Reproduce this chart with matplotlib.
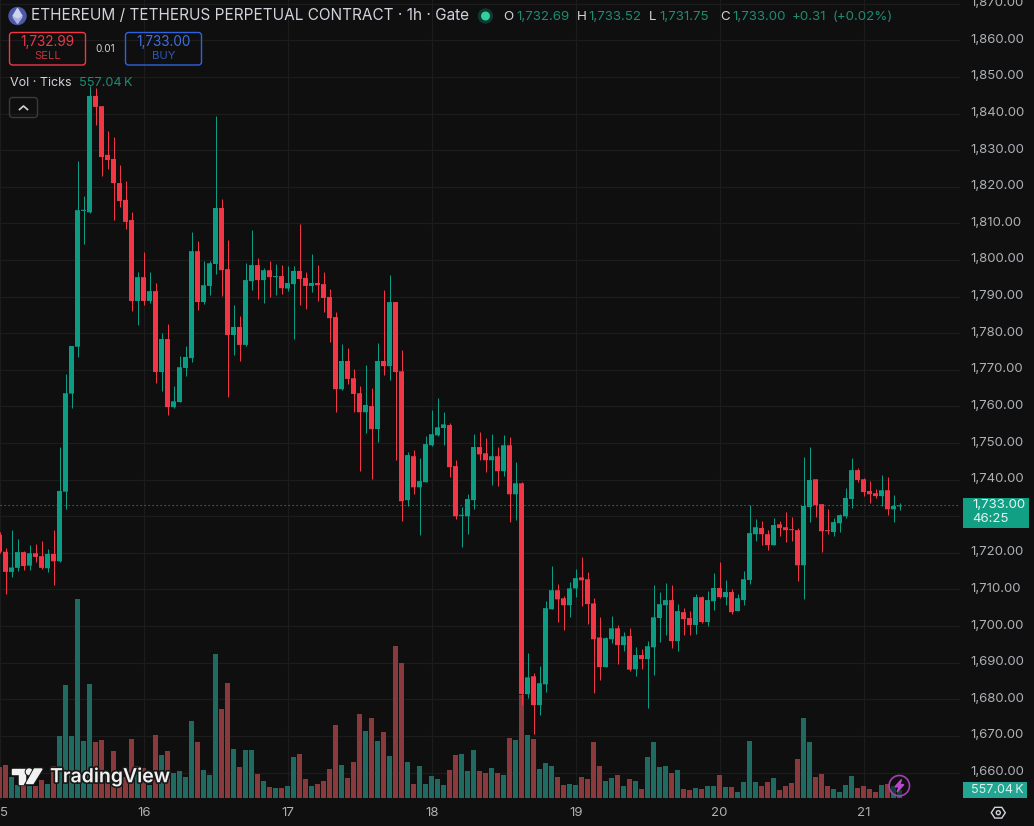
import numpy as np
import matplotlib
matplotlib.use("Agg")
import matplotlib.pyplot as plt
from matplotlib import patheffects
from matplotlib.patches import Circle, FancyBboxPatch, Polygon, Rectangle
from matplotlib.transforms import ScaledTranslation

# Hourly ETH/USDT perpetual candles; hour 0 is the first bar of the 16th.
opens = [
    1724.9, 1720.3, 1714.8, 1715.9, 1720.2, 1716.5, 1719.9, 1719.1, 1715.8, 1719.7, 1717.7, 1736.7,
    1763.5, 1776.3, 1813.4, 1813.0, 1844.8, 1842.0, 1828.7, 1827.6, 1821.0, 1816.4, 1810.9, 1788.8,
    1795.3, 1788.8, 1791.5, 1769.4, 1778.4, 1759.8, 1761.2, 1770.5, 1773.2, 1802.4, 1788.5, 1792.9,
    1798.9, 1814.2, 1797.5, 1779.5, 1781.7, 1776.8, 1794.2, 1798.6, 1794.5, 1797.2, 1795.3, 1795.6,
    1792.2, 1793.4, 1797.0, 1795.1, 1792.9, 1793.7, 1793.4, 1789.9, 1784.4, 1764.7, 1772.4, 1767.7,
    1763.6, 1758.4, 1760.1, 1753.8, 1772.4, 1771.0, 1788.5, 1769.6, 1734.4, 1746.4, 1737.9, 1739.3,
    1749.4, 1752.1, 1754.1, 1754.9, 1743.7, 1730.1, 1730.0, 1734.4, 1748.9, 1747.2, 1745.3, 1746.4,
    1742.3, 1749.4, 1736.0, 1739.0, 1681.4, 1686.3, 1678.4, 1684.1, 1704.6, 1709.8, 1707.6, 1705.7,
    1710.3, 1713.3, 1712.8, 1706.2, 1696.9, 1688.8, 1696.4, 1699.4, 1694.8, 1697.3, 1688.2, 1692.1,
    1691.0, 1694.2, 1702.2, 1705.7, 1707.1, 1695.9, 1703.8, 1702.2, 1700.3, 1707.9, 1701.1, 1706.8,
    1710.4, 1707.9, 1709.3, 1704.1, 1707.1, 1712.6, 1725.1, 1726.8, 1725.1, 1722.1, 1727.8, 1727.0,
    1726.5, 1726.2, 1716.6, 1732.5, 1740.1, 1733.3, 1726.2, 1725.7, 1728.1, 1730.0, 1734.7, 1742.6,
    1740.1, 1736.9, 1736.3, 1735.5, 1737.1, 1731.9, 1732.69,
]
highs = [
    1725.8, 1721.2, 1726.2, 1723.8, 1720.6, 1722.1, 1722.4, 1723.2, 1721.0, 1726.2, 1748.8, 1768.8,
    1776.6, 1827.0, 1817.4, 1847.5, 1846.9, 1842.0, 1835.2, 1833.6, 1825.9, 1821.6, 1813.1, 1796.7,
    1802.2, 1796.7, 1793.7, 1780.0, 1782.5, 1765.6, 1773.7, 1776.5, 1807.6, 1805.2, 1799.7, 1799.7,
    1839.3, 1816.6, 1805.4, 1787.7, 1784.7, 1799.2, 1808.2, 1800.5, 1797.9, 1799.7, 1798.9, 1798.6,
    1798.3, 1798.3, 1809.8, 1796.7, 1801.6, 1798.6, 1796.7, 1792.0, 1785.8, 1777.0, 1775.9, 1770.2,
    1765.5, 1771.3, 1765.0, 1777.3, 1791.8, 1795.9, 1788.5, 1775.4, 1747.5, 1748.0, 1745.9, 1751.9,
    1759.0, 1762.3, 1758.4, 1755.4, 1745.3, 1732.5, 1736.0, 1752.4, 1753.0, 1751.3, 1752.4, 1748.9,
    1752.1, 1751.6, 1744.8, 1739.3, 1692.6, 1687.1, 1689.0, 1706.8, 1716.3, 1711.4, 1708.2, 1712.0,
    1715.5, 1718.8, 1714.7, 1707.6, 1702.4, 1696.9, 1702.7, 1700.2, 1698.3, 1699.4, 1694.2, 1693.7,
    1695.9, 1711.2, 1709.3, 1711.7, 1711.2, 1706.0, 1704.9, 1704.1, 1708.7, 1708.2, 1709.5, 1714.5,
    1717.5, 1712.6, 1710.1, 1708.7, 1715.0, 1733.0, 1729.2, 1728.7, 1726.2, 1729.5, 1728.7, 1731.1,
    1729.8, 1726.8, 1746.2, 1748.9, 1740.1, 1733.3, 1731.9, 1729.5, 1730.6, 1737.7, 1745.9, 1743.2,
    1740.4, 1739.6, 1737.4, 1741.2, 1740.7, 1735.8, 1733.52,
]
lows = [
    1719.9, 1708.9, 1713.5, 1715.1, 1715.3, 1715.3, 1717.5, 1715.7, 1714.7, 1711.2, 1717.6, 1731.9,
    1759.6, 1773.6, 1804.4, 1812.7, 1836.9, 1822.9, 1824.9, 1810.9, 1814.5, 1808.4, 1786.0, 1782.2,
    1787.7, 1788.3, 1766.4, 1764.2, 1757.6, 1759.5, 1761.2, 1768.3, 1772.1, 1786.3, 1788.0, 1790.4,
    1796.1, 1790.1, 1762.5, 1774.0, 1772.4, 1776.5, 1791.8, 1789.3, 1788.2, 1789.8, 1790.4, 1790.7,
    1791.5, 1778.4, 1787.7, 1786.6, 1791.2, 1788.8, 1785.8, 1777.6, 1758.4, 1764.5, 1766.1, 1758.4,
    1742.3, 1752.7, 1740.1, 1750.2, 1768.6, 1767.2, 1745.3, 1728.6, 1732.7, 1736.0, 1724.8, 1739.3,
    1749.1, 1751.9, 1749.4, 1740.7, 1729.2, 1721.5, 1725.1, 1731.9, 1745.3, 1742.0, 1738.5, 1738.2,
    1740.9, 1728.4, 1728.9, 1678.4, 1680.3, 1670.6, 1675.6, 1681.9, 1704.6, 1701.0, 1698.9, 1702.4,
    1707.9, 1705.4, 1700.5, 1681.7, 1685.2, 1688.8, 1695.3, 1689.6, 1693.1, 1687.7, 1686.3, 1688.2,
    1677.6, 1686.6, 1695.6, 1697.5, 1694.0, 1693.2, 1697.5, 1697.5, 1697.8, 1700.8, 1700.0, 1704.4,
    1707.6, 1705.7, 1703.3, 1704.1, 1705.7, 1711.5, 1723.2, 1722.1, 1720.7, 1722.1, 1724.6, 1722.9,
    1723.2, 1712.3, 1707.4, 1728.4, 1729.8, 1720.2, 1725.1, 1724.6, 1725.7, 1729.5, 1732.2, 1739.3,
    1735.5, 1733.6, 1735.0, 1732.8, 1730.3, 1728.4, 1731.75,
]
closes = [
    1720.3, 1714.8, 1716.0, 1720.2, 1716.4, 1719.9, 1718.9, 1715.9, 1719.7, 1717.7, 1736.9, 1763.6,
    1776.5, 1813.6, 1813.6, 1844.8, 1841.8, 1828.1, 1827.3, 1821.0, 1816.1, 1810.4, 1788.8, 1795.3,
    1788.8, 1791.5, 1769.4, 1778.4, 1759.8, 1761.4, 1770.7, 1773.5, 1802.4, 1788.5, 1793.1, 1799.1,
    1814.2, 1797.2, 1779.5, 1781.7, 1776.8, 1794.5, 1798.6, 1794.5, 1797.2, 1795.3, 1795.6, 1792.3,
    1793.7, 1797.0, 1794.8, 1792.9, 1793.7, 1793.1, 1789.6, 1784.1, 1764.7, 1772.4, 1767.5, 1763.4,
    1758.4, 1760.4, 1753.8, 1772.4, 1771.0, 1788.5, 1769.4, 1734.1, 1746.7, 1737.9, 1739.6, 1749.7,
    1752.4, 1754.3, 1755.1, 1743.4, 1730.0, 1730.3, 1734.7, 1748.9, 1746.9, 1745.3, 1746.4, 1742.3,
    1749.4, 1736.0, 1739.0, 1681.4, 1686.0, 1678.4, 1684.4, 1704.9, 1709.8, 1707.3, 1705.7, 1710.3,
    1713.1, 1712.5, 1706.0, 1696.4, 1688.8, 1696.7, 1699.4, 1694.8, 1697.2, 1688.1, 1692.1, 1691.0,
    1694.5, 1702.4, 1706.0, 1707.1, 1695.9, 1704.1, 1701.9, 1700.3, 1707.9, 1701.1, 1707.1, 1710.4,
    1707.9, 1709.3, 1703.8, 1707.6, 1712.8, 1725.4, 1727.0, 1725.1, 1722.1, 1727.6, 1726.8, 1726.2,
    1726.2, 1716.6, 1732.8, 1739.9, 1733.0, 1725.9, 1725.9, 1728.4, 1730.3, 1735.0, 1742.6, 1739.9,
    1736.6, 1736.0, 1735.5, 1737.1, 1731.9, 1732.8, 1733.00,
]
# Traded volume in thousands of ticks
volumes_k = [
    2170, 2310, 1470, 910, 840, 840, 840, 1260, 980, 2240, 4340, 7910,
    4340, 13930, 3990, 7980, 3920, 4060, 1610, 3290, 1260, 1470, 4130, 2240,
    2100, 910, 4410, 3010, 3290, 1750, 1890, 1470, 5390, 3920, 1960, 1610,
    10080, 6230, 8050, 3430, 2170, 3360, 3360, 1680, 1190, 770, 700, 700,
    840, 2870, 3080, 1330, 840, 980, 1190, 2030, 5110, 2310, 1400, 2520,
    5880, 4690, 5600, 3990, 4620, 2940, 10640, 9450, 2520, 980, 2240, 980,
    1540, 1330, 910, 1960, 3010, 3080, 1890, 3360, 1890, 1750, 2100, 1750,
    1610, 4200, 4060, 7210, 4410, 4130, 2030, 2450, 2240, 1470, 910, 980,
    910, 1470, 1330, 3920, 2240, 1190, 1400, 1610, 840, 1330, 1190, 630,
    2870, 3920, 2170, 2240, 1750, 1960, 630, 560, 700, 630, 840, 840,
    1610, 770, 770, 420, 1120, 3990, 1120, 840, 1120, 1400, 560, 840,
    1050, 2730, 5600, 3920, 1470, 1680, 840, 630, 420, 910, 1540, 700,
    840, 630, 420, 910, 980, 840, 557.04,
]
price_ticks = list(range(1660, 1880, 10))
hidden_price_tick = 1730  # sits under the last-price tag
day_labels = ["5", "16", "17", "18", "19", "20", "21"]
day_label_hours = [-24, 0, 24, 48, 72, 96, 120]
bid_price = 1732.99
ask_price = 1733.00
spread = 0.01
countdown = "46:25"

BG = "#0f0f0f"
GRID = "#1c1c1c"
UP = "#0b9c83"
UP_TEXT = "#1c8c72"
DOWN = "#f23645"
VOL_UP = "#1f6b62"
VOL_DOWN = "#8a3a3c"
AXIS_TEXT = "#adb0b5"
TITLE_TEXT = "#d1d4dc"
FONT = "Inter"

plt.rcParams["font.family"] = [FONT, "DejaVu Sans"]

WIDTH, HEIGHT = 1034, 826
PLOT_RIGHT, PLOT_BOTTOM = 960, 800
fig = plt.figure(figsize=(WIDTH / 100, HEIGHT / 100), dpi=100, facecolor=BG)
rect = [0, (HEIGHT - PLOT_BOTTOM) / HEIGHT, PLOT_RIGHT / WIDTH, PLOT_BOTTOM / HEIGHT]

hours = np.arange(len(closes)) - 24
o, h, l, c = map(np.array, (opens, highs, lows, closes))
rising = c >= o
PX_PER_HOUR = 6
x_limits = (-143.5 / PX_PER_HOUR, (PLOT_RIGHT - 143.5) / PX_PER_HOUR)
y_limits = (1652.5, 1871.0)

# Bottom layer: background, grid and axis labels
ax_base = fig.add_axes(rect, facecolor=BG, zorder=0)
ax_base.set_xlim(x_limits)
ax_base.set_ylim(y_limits)
ax_base.set_xticks(day_label_hours)
ax_base.set_xticklabels(day_labels, fontsize=9.5, color=AXIS_TEXT)
ax_base.get_xticklabels()[0].set_ha("left")
ax_base.set_yticks(price_ticks)
ax_base.set_yticklabels(["" if p == hidden_price_tick else f"{p:,.2f}" for p in price_ticks],
                        fontsize=9.5, color=AXIS_TEXT)
ax_base.yaxis.tick_right()
ax_base.tick_params(axis="y", length=0, pad=7.6)
ax_base.tick_params(axis="x", length=0, pad=5.4)
ax_base.grid(True, color=GRID, linewidth=0.9)
ax_base.set_axisbelow(True)
for spine in ax_base.spines.values():
    spine.set_visible(False)
lift = ScaledTranslation(0, 2 / 100, fig.dpi_scale_trans)
for tick_label in ax_base.get_yticklabels():
    tick_label.set_transform(tick_label.get_transform() + lift)

# Middle layer: volume histogram on its own scale (70K per screen pixel)
ax_vol = fig.add_axes(rect, facecolor="none", zorder=1)
ax_vol.set_xlim(x_limits)
ax_vol.set_ylim(-2 * 70, 798 * 70)
ax_vol.bar(hours, volumes_k, width=5 / 6, linewidth=0, snap=False,
           color=[VOL_UP if r else VOL_DOWN for r in rising])
ax_vol.axis("off")

# Top layer: candles
ax = fig.add_axes(rect, facecolor="none", zorder=2)
ax.set_xlim(x_limits)
ax.set_ylim(y_limits)
colors = [UP if r else DOWN for r in rising]
ax.vlines(hours, l, h, colors=colors, linewidth=0.72)
ax.bar(hours, np.maximum(np.abs(c - o), 0.3), bottom=np.minimum(o, c),
       width=5 / 6, color=colors, linewidth=0, snap=False)
ax.axhline(c[-1], color=UP, linewidth=0.8, linestyle=(0, (1.2, 2.4)), alpha=0.85)
ax.axis("off")

# Pixel-space layer for the terminal's interface elements
ui = fig.add_axes([0, 0, 1, 1], facecolor="none", zorder=5)
ui.set_xlim(0, WIDTH)
ui.set_ylim(HEIGHT, 0)
ui.axis("off")


def label(x, y, text, size=9.4, color=AXIS_TEXT, ha="left", **kw):
    return ui.text(x, y, text, fontsize=size, color=color, ha=ha, va="center", **kw)


def box(x0, y0, x1, y1, edge, face="none", radius=3, lw=1.0):
    ui.add_patch(FancyBboxPatch((x0, y0), x1 - x0, y1 - y0,
                                boxstyle=f"round,pad=0,rounding_size={radius}",
                                edgecolor=edge, facecolor=face, linewidth=lw))


# Symbol badge
ui.add_patch(Circle((17.5, 16), 8.5, color="#4b59a8"))
ui.add_patch(Polygon([(17.5, 8.5), (13, 16), (17.5, 18.5), (22, 16)], color="#cfd4ee"))
ui.add_patch(Polygon([(13, 17), (17.5, 23.5), (22, 17), (17.5, 19.8)], color="#aab3e0"))

label(31, 16, "ETHEREUM / TETHERUS PERPETUAL CONTRACT · 1h · Gate", size=11.05, color=TITLE_TEXT)

# Market status dot
ui.add_patch(Circle((485.5, 16), 7, color="#12372f"))
ui.add_patch(Circle((485.5, 16), 3.8, color="#2fd0a4"))

# OHLC legend
legend_bits = [
    (503.5, "O", TITLE_TEXT), (516, f"{o[-1]:,.2f}", UP_TEXT),
    (576.5, "H", TITLE_TEXT), (588, f"{h[-1]:,.2f}", UP_TEXT),
    (649, "L", TITLE_TEXT), (659, f"{l[-1]:,.2f}", UP_TEXT),
    (720, "C", TITLE_TEXT), (732, f"{c[-1]:,.2f}", UP_TEXT),
    (792, f"{c[-1] - o[-1]:+.2f}", UP_TEXT),
    (833, f"({(c[-1] - o[-1]) / o[-1] * 100:+.2f}%)", UP_TEXT),
]
for bx, bt, bc in legend_bits:
    label(bx, 17.5, bt, size=9.6, color=bc)

# Sell / buy buttons
box(9.5, 32.5, 85.5, 65, DOWN)
label(47.5, 42, f"{bid_price:,.2f}", size=9.8, color=DOWN, ha="center")
label(47.5, 56, "SELL", size=8.2, color="#c5303e", ha="center")
label(105, 49.5, f"{spread:.2f}", size=7.2, color=TITLE_TEXT, ha="center")
box(125.5, 32.5, 201.5, 65, "#2e62e0")
label(163.5, 42, f"{ask_price:,.2f}", size=9.8, color="#3f6fe8", ha="center")
label(163.5, 56, "BUY", size=8.2, color="#2f55b8", ha="center")

# Volume legend and collapse button
last_volume = f"{volumes_k[-1]:.2f}\u2009K"
label(10, 82.5, "Vol · Ticks", size=9.0, color=TITLE_TEXT)
label(79, 82.5, last_volume, size=9.2, color=UP_TEXT)
box(9.5, 97.5, 37.5, 117.5, "#3a3a3a")
ui.plot([19.5, 23.5, 27.5], [109.5, 106, 109.5], color="#d1d4dc", linewidth=1.2)

# Last price and last volume tags on the price scale
ui.add_patch(Rectangle((963, 497.5), 66, 30, color="#12a085", linewidth=0))
label(972, 505, f"{c[-1]:,.2f}", size=9.5, color="#e6f5f1")
label(972, 519, countdown, size=9.5, color="#e6f5f1")
ui.add_patch(Rectangle((963, 782), 64, 16, color="#22a593", linewidth=0))
label(971, 790, last_volume, size=9.0, color="#d9f2ec")

# Watermark
shadow = [patheffects.withStroke(linewidth=2.5, foreground="#1a1a1a")]
for patch in (
    Polygon([(12, 769), (25.2, 769), (25.2, 783.5), (19.4, 783.5), (19.4, 774.4), (12, 774.4)], color="#f2f2f2"),
    Circle((29.2, 771.8), 2.8, color="#f2f2f2"),
    Polygon([(34.5, 769), (42, 769), (33, 783.5), (26.5, 783.5)], color="#f2f2f2"),
):
    patch.set_path_effects(shadow)
    ui.add_patch(patch)
label(50, 777, "TradingView", size=14, color="#f2f2f2", fontweight="semibold", path_effects=shadow)

# Lightning badge
ui.add_patch(Circle((899.3, 785.7), 10.2, facecolor="#0f0f0f80", edgecolor="#a53fb5", linewidth=1.2))
ui.add_patch(Polygon([(901.5, 779.5), (895, 786.8), (899, 786.8), (897.2, 792), (903.8, 784.6), (899.8, 784.6)],
                     color="#b84ac8"))

# Scale settings icon
hex_angles = np.deg2rad(np.arange(0, 360, 60))
ui.add_patch(Polygon(np.column_stack((998.3 + 7 * np.cos(hex_angles), 812.7 + 6.2 * np.sin(hex_angles))),
                     closed=True, facecolor="none", edgecolor=TITLE_TEXT, linewidth=1.0))
ui.add_patch(Circle((998.3, 812.7), 2.0, facecolor="none", edgecolor=TITLE_TEXT, linewidth=1.0))

fig.savefig("out.png", dpi=100, facecolor=BG)
